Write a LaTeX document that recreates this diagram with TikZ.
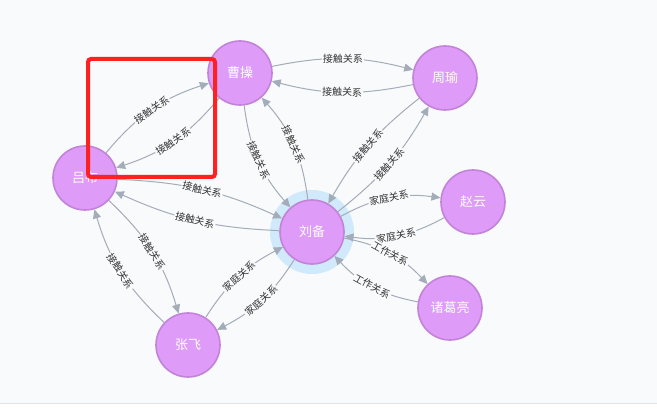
\documentclass[tikz,border=0pt]{standalone}
\usepackage{fontspec}
\setmainfont{Noto Sans CJK SC}
\usetikzlibrary{arrows.meta}
\definecolor{bgc}{HTML}{F9FAFB}
\definecolor{nodefill}{HTML}{DE9BF8}
\definecolor{nodedraw}{HTML}{C283D8}
\definecolor{edgec}{HTML}{A3ACB9}
\definecolor{haloc}{HTML}{D0E9FB}
\definecolor{redc}{HTML}{FF2121}
\definecolor{sepc}{HTML}{E3E5E8}
\definecolor{lblc}{HTML}{333333}
\begin{document}
\begin{tikzpicture}[x=1pt,y=1pt,
  person/.style={circle, minimum size=64pt, inner sep=0pt, fill=nodefill, draw=nodedraw, line width=1.6pt, text=white, font=\fontsize{13}{13}\selectfont},
  rel/.style={draw=edgec, line width=1pt, -{Triangle[length=9pt,width=8pt]}},
  lbl/.style={sloped, midway, fill=bgc, inner sep=1pt, text=lblc, font=\fontsize{10}{10}\selectfont},
  highlight/.style={draw=redc, line width=4pt, rounded corners=3pt}]
\useasboundingbox (0,0) rectangle (657,417);
\fill[white] (0,0) rectangle (657,417);
\fill[bgc] (0,13.5) rectangle (657,417);
\draw[sepc, line width=1pt] (0,13.5) -- (657,13.5);
% halo
\fill[haloc] (312,185) circle (42);
% nodes
\node[person] (cc) at (240,344) {曹操};
\node[person] (zy) at (445,339) {周瑜};
\node[person] (lvb) at (85,239) {吕布};
\node[person] (lb) at (312,185) {刘备};
\node[person] (zyun) at (473,215) {赵云};
\node[person] (zgl) at (450,109) {诸葛亮};
\node[person] (zf) at (188,72) {张飞};
% edges
\draw[rel] (lvb) to[bend left=16] node[lbl] {接触关系} (cc);
\draw[rel] (cc) to[bend left=16] node[lbl] {接触关系} (lvb);
\draw[rel] (cc) to[bend left=13] node[lbl] {接触关系} (zy);
\draw[rel] (zy) to[bend left=13] node[lbl] {接触关系} (cc);
\draw[rel] (cc) to[bend right=17] node[lbl] {接触关系} (lb);
\draw[rel] (lb) to[bend right=17] node[lbl] {接触关系} (cc);
\draw[rel] (zy) to[bend right=11] node[lbl] {接触关系} (lb);
\draw[rel] (lb) to[bend right=11] node[lbl] {接触关系} (zy);
\draw[rel] (lb) to[bend left=18] node[lbl] {家庭关系} (zyun);
\draw[rel] (zyun) to[bend left=18] node[lbl] {家庭关系} (lb);
\draw[rel] (lb) to[bend left=18] node[lbl] {工作关系} (zgl);
\draw[rel] (zgl) to[bend left=18] node[lbl] {工作关系} (lb);
\draw[rel] (lb) to[bend left=15] node[lbl] {家庭关系} (zf);
\draw[rel] (zf) to[bend left=15] node[lbl] {家庭关系} (lb);
\draw[rel] (lvb) to[bend left=11] node[lbl] {接触关系} (lb);
\draw[rel] (lb) to[bend left=11] node[lbl] {接触关系} (lvb);
\draw[rel] (lvb) to[bend left=15] node[lbl] {接触关系} (zf);
\draw[rel] (zf) to[bend left=15] node[lbl] {接触关系} (lvb);
% highlight box
\draw[highlight] (88,240) rectangle (215,358);
\end{tikzpicture}
\end{document}
